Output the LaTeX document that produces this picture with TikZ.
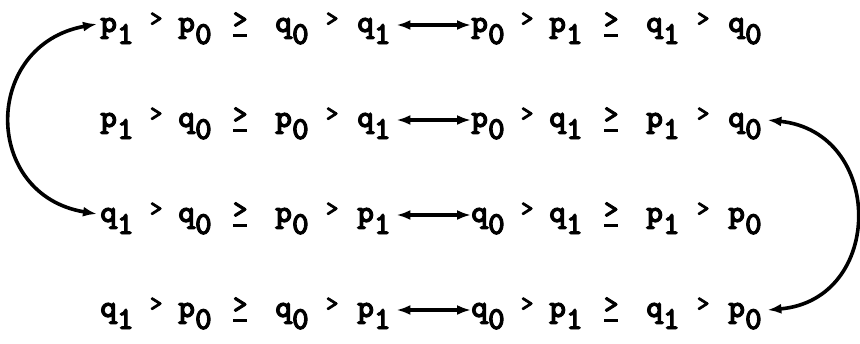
\documentclass[tikz,border=0pt]{standalone}
\usepackage{fontspec}
\newfontfamily\twfont{lmmonolt10-bold}[Extension=.otf,FakeBold=3]
\usetikzlibrary{arrows.meta}
\newcommand\tv[2]{#1\raisebox{-12pt}{#2}}
\newcommand\tgt{\raisebox{6pt}{\fontsize{24}{24}\selectfont >}}
\newcommand\tge{\makebox[0pt]{\raisebox{4pt}{\fontsize{28}{28}\selectfont >}}\makebox[0pt]{\raisebox{-5pt}{\rule{14pt}{3.2pt}}}}
\newcommand\ex[8]{\rlap{\tv{#1}{#2}}\hspace*{56pt}\makebox[0pt]{\tgt}\hspace*{22pt}\rlap{\tv{#3}{#4}}\hspace*{62pt}\makebox[0pt]{\tge}\hspace*{35pt}\rlap{\tv{#5}{#6}}\hspace*{57pt}\makebox[0pt]{\tgt}\hspace*{25pt}\rlap{\tv{#7}{#8}}\hspace*{35pt}}
\begin{document}
\begin{tikzpicture}[x=1pt,y=-1pt,
  expr/.style={inner sep=0pt,anchor=base west,font=\twfont\fontsize{32}{34}\selectfont},
  conn/.style={line width=3.6pt,{Latex[length=14pt,width=10pt]}-{Latex[length=14pt,width=10pt]}}]
\useasboundingbox (0,0) rectangle (860,343);
\node[expr] (L1) at (100,32) {\ex{p}{1}{p}{0}{q}{0}{q}{1}};
\node[expr] (R1) at (471,32) {\ex{p}{0}{p}{1}{q}{1}{q}{0}};
\node[expr] (L2) at (100,127) {\ex{p}{1}{q}{0}{p}{0}{q}{1}};
\node[expr] (R2) at (471,127) {\ex{p}{0}{q}{1}{p}{1}{q}{0}};
\node[expr] (L3) at (100,222) {\ex{q}{1}{q}{0}{p}{0}{p}{1}};
\node[expr] (R3) at (471,222) {\ex{q}{0}{q}{1}{p}{1}{p}{0}};
\node[expr] (L4) at (100,317) {\ex{q}{1}{p}{0}{q}{0}{p}{1}};
\node[expr] (R4) at (471,317) {\ex{q}{0}{p}{1}{q}{1}{p}{0}};
\foreach \r in {1,2,3,4}{
  \draw[conn] ([xshift=4pt,yshift=7pt]L\r.base east) -- ([xshift=0pt,yshift=7pt]R\r.base west);
}
\draw[conn] ([xshift=-3pt,yshift=8pt]L1.base west) .. controls (-18,45) and (-18,195) .. ([xshift=-3pt,yshift=8pt]L3.base west);
\draw[conn] ([xshift=4pt,yshift=7pt]R2.base east) .. controls (885,132) and (885,300) .. ([xshift=4pt,yshift=7pt]R4.base east);
\end{tikzpicture}
\end{document}
